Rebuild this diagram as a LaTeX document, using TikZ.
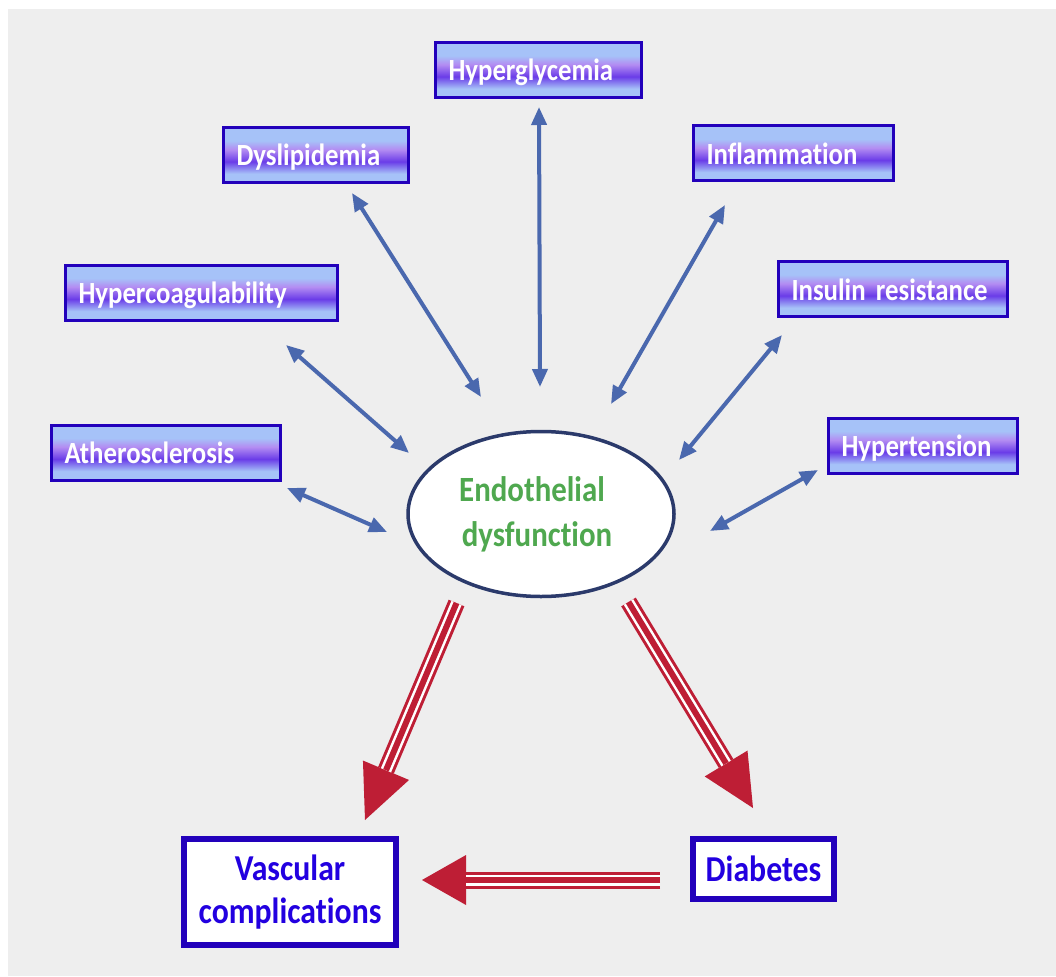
\documentclass[tikz,border=0pt]{standalone}
\usepackage{fontspec}
\setmainfont{Carlito}[FakeStretch=0.87,Ligatures=NoCommon]
\usetikzlibrary{arrows.meta,calc,shapes.geometric}
\definecolor{bgc}{HTML}{EEEEEE}
\definecolor{glight}{HTML}{A6C2F8}
\definecolor{glav}{HTML}{B38CF2}
\definecolor{gviolet}{HTML}{6A3CE8}
\definecolor{boxline}{HTML}{2200BB}
\definecolor{bluearr}{HTML}{4A68AE}
\definecolor{ellline}{HTML}{2B3A6B}
\definecolor{greentxt}{HTML}{4FA84F}
\definecolor{redc}{HTML}{BE1E35}
\definecolor{bluetxt}{HTML}{2200E0}
\pgfdeclareverticalshading{boxgrad}{100bp}{color(0bp)=(glight); color(33bp)=(glight); color(44bp)=(gviolet); color(55bp)=(glav); color(63bp)=(glight); color(100bp)=(glight)}
\newcommand\tripleArrow[3]{%
  \coordinate (tmpB) at ($(#2)!#3!(#1)$);
  \fill[redc] (#2) -- ($(tmpB)!25pt!90:(#2)$) -- ($(tmpB)!25pt!-90:(#2)$) -- cycle;
  \draw[redc,line width=17pt] (#1) -- (tmpB);
  \draw[white,line width=11pt] (#1) -- (tmpB);
  \draw[redc,line width=6pt] (#1) -- (tmpB);
}
\begin{document}
\begin{tikzpicture}[x=1pt,y=-1pt,
  factor/.style={draw=boxline, line width=3pt, shading=boxgrad, text=white,
    font=\fontsize{30.8}{34}\selectfont\bfseries, align=left, inner xsep=13pt, inner ysep=0pt,
    text height=22pt, text depth=0pt, minimum height=55pt},
  outcome/.style={draw=boxline, line width=5.5pt, fill=white, text=bluetxt,
    font=\fontsize{36.5}{43}\selectfont\bfseries, align=center, inner sep=0pt},
  link/.style={bluearr, line width=4pt,
    {Triangle[length=18pt,width=15pt]}-{Triangle[length=18pt,width=15pt]}}
]
\useasboundingbox (0,0) rectangle (1056,976);
\fill[bgc] (8,9) rectangle (1056,976);

% factor boxes
\node[factor, text width=180pt] (hg)  at (538.5,70)  {Hyperglycemia};
\node[factor, text width=159pt] (dy)  at (316,155)   {Dyslipidemia};
\node[factor, text width=174pt] (inf) at (793.5,153.5) {Inflammation};
\node[factor, text width=203pt] (ins) at (893,289)   {Insulin resistance};
\node[factor, text width=163pt] (hyt) at (923,445.5) {Hypertension};
\node[factor, text width=246pt] (hc)  at (201.5,292.5) {Hypercoagulability};
\node[factor, text width=203pt] (ath) at (166,452.5) {Atherosclerosis};

% central ellipse
\node[ellipse, draw=ellline, line width=3.5pt, fill=white, minimum width=266pt,
  minimum height=165pt, inner sep=0pt, text=greentxt, align=center,
  font=\fontsize{35.5}{45}\selectfont\bfseries] (ed) at (541,514)
  {Endothelial\hspace*{18pt}\\dysfunction\hspace*{8pt}};

% outcome boxes
\node[outcome, minimum width=212pt, minimum height=106pt] (vc) at (290,892) {Vascular\\complications};
\node[outcome, minimum width=141pt, minimum height=60pt] (db) at (763.5,869) {Diabetes};

% blue arrow end points
\coordinate (hg1) at (539,107);  \coordinate (hg2) at (540,387);
\coordinate (dy1) at (352,193);  \coordinate (dy2) at (481,397);
\coordinate (in1) at (725,205);  \coordinate (in2) at (611,404);
\coordinate (is1) at (782,335);  \coordinate (is2) at (679,460);
\coordinate (ht1) at (818,470);  \coordinate (ht2) at (710,531);
\coordinate (hc1) at (286,345);  \coordinate (hc2) at (409,453);
\coordinate (at1) at (287,488);  \coordinate (at2) at (387,532);
\draw[link] (hg1) -- (hg2);
\draw[link] (dy1) -- (dy2);
\draw[link] (in1) -- (in2);
\draw[link] (is1) -- (is2);
\draw[link] (ht1) -- (ht2);
\draw[link] (hc1) -- (hc2);
\draw[link] (at1) -- (at2);

% red triple arrows
\coordinate (l1) at (456.5,603); \coordinate (l2) at (365,820);
\coordinate (r1) at (628.5,602); \coordinate (r2) at (753,808);
\coordinate (h1) at (660,880);   \coordinate (h2) at (422,880);
\tripleArrow{l1}{l2}{54pt}
\tripleArrow{r1}{r2}{52pt}
\tripleArrow{h1}{h2}{44pt}
\end{tikzpicture}
\end{document}
